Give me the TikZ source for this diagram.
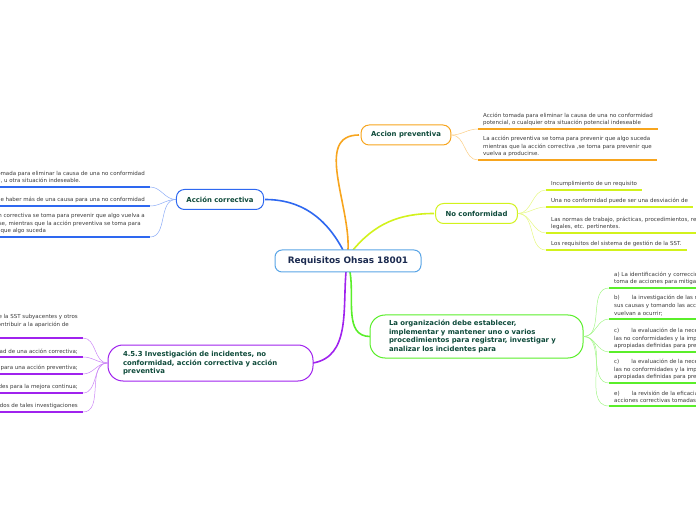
\documentclass[tikz,border=0pt]{standalone}
\usepackage{fontspec}
\setmainfont{DejaVu Sans}
\definecolor{rootline}{HTML}{5AA5E6}
\definecolor{roottext}{HTML}{1C2B50}
\definecolor{topictext}{HTML}{0E4A3A}
\definecolor{leaftext}{HTML}{3A3A3A}
\definecolor{apcol}{HTML}{F7A51E}
\definecolor{nccol}{HTML}{D2F21C}
\definecolor{accol}{HTML}{2E68F0}
\definecolor{orgcol}{HTML}{5AEE2A}
\definecolor{invcol}{HTML}{A023EE}
\tikzset{
  root/.style={draw=rootline, line width=1pt, rounded corners=7pt, fill=white, text=roottext,
    font=\fontsize{8.9}{10}\selectfont\bfseries, minimum width=146pt, minimum height=22pt},
  topic/.style={draw=#1, line width=1pt, rounded corners=8pt, fill=white, text=topictext,
    font=\fontsize{6.9}{8.4}\selectfont\bfseries, inner xsep=10pt, minimum height=20pt},
  bigtopic/.style={topic=#1, rounded corners=15pt, align=left, text width=175pt},
  leaf/.style={text=leaftext, font=\fontsize{5.5}{7.6}\selectfont, align=left, inner xsep=5pt, inner ysep=3pt},
  uline/.style={draw=#1, line width=1.5pt},
  branch/.style={draw=#1, line width=1.6pt},
  twig/.style={draw=#1!55, line width=0.5pt},
}
\newcommand{\gapb}{\hspace{12pt}}
\begin{document}
\begin{tikzpicture}[x=1pt, y=1pt]
\useasboundingbox (0,0) rectangle (696,520);
\clip (0,0) rectangle (696,520);

% ramas principales
\coordinate (rn) at (348,270);
\coordinate (rs) at (348,248);
\draw[branch=accol] ([xshift=-5pt]rn) to[out=118,in=0] (265,320.5);
\draw[branch=apcol] (rn) to[out=87,in=180] (359,385);
\draw[branch=nccol] ([xshift=5pt]rn) to[out=50,in=180] (434,306.5);
\draw[branch=invcol] ([xshift=-2pt]rs) to[out=-95,in=10] (313,157);
\draw[branch=orgcol] ([xshift=2pt]rs) to[out=-80,in=180] (370,183.5);

\node[root] (root) at (348,259) {Requisitos Ohsas 18001};
\node[topic=apcol] (ap) at (406,385) {Accion preventiva};
\node[topic=nccol] (nc) at (476.5,306.5) {No conformidad};
\node[topic=accol] (ac) at (220,320.5) {Acción correctiva};
\node[bigtopic=orgcol, inner xsep=19pt, minimum height=43pt] (org) at (476.5,183.5)
  {La organización debe establecer,\\implementar y mantener uno o varios\\procedimientos para registrar, investigar y\\analizar los incidentes para};
\node[bigtopic=invcol, inner xsep=15pt, minimum height=36pt] (inv) at (210.5,157)
  {4.5.3 Investigación de incidentes, no\\conformidad, acción correctiva y acción\\preventiva};

% hojas a la derecha
\foreach \id/\src/\col/\x/\y/\txt in {
  ap1/ap/apcol/478/391/{Acción tomada para eliminar la causa de una no conformidad\\potencial, o cualquier otra situación potencial indeseable},
  ap2/ap/apcol/478/360/{La acción preventiva se toma para prevenir que algo suceda\\mientras que la acción correctiva ,se toma para prevenir que\\vuelva a producirse.},
  nc1/nc/nccol/546/330/{Incumplimiento de un requisito},
  nc2/nc/nccol/546/313/{Una no conformidad puede ser una desviación de},
  nc3/nc/nccol/546/287/{Las normas de trabajo, prácticas, procedimientos, requisitos\\legales, etc. pertinentes.},
  nc4/nc/nccol/546/270/{Los requisitos del sistema de gestión de la SST.},
  org1/org/orgcol/609/232/{a) La identificación y corrección de las no conformidades y la\\toma de acciones para mitigar sus consecuencias para la SST;},
  org2/org/orgcol/609/201/{b)\gapb la investigación de las no conformidades, determinando\\sus causas y tomando las acciones con el fin de evitar que\\vuelvan a ocurrir;},
  org3/org/orgcol/609/168/{c)\gapb la evaluación de la necesidad de acciones para prevenir\\las no conformidades y la implementación de las acciones\\apropiadas definidas para prevenir su ocurrencia;},
  org4/org/orgcol/609/137/{c)\gapb la evaluación de la necesidad de acciones para prevenir\\las no conformidades y la implementación de las acciones\\apropiadas definidas para prevenir su ocurrencia;},
  org5/org/orgcol/609/114/{e)\gapb la revisión de la eficacia de las acciones preventivas y\\acciones correctivas tomadas.}} {
  \node[leaf, anchor=south west] (\id) at (\x,\y) {\txt};
  \draw[uline=\col] (\id.south west) -- (\id.south east);
  \draw[twig=\col] (\src.east) to[out=0,in=180] (\id.south west);
}

% hojas a la izquierda
\foreach \id/\src/\col/\x/\y/\txt in {
  ac1/ac/accol/150/333/{Acción tomada para eliminar la causa de una no conformidad\\potencial, u otra situación indeseable.},
  ac2/ac/accol/150/314/{Puede haber más de una causa para una no conformidad},
  ac3/ac/accol/150/283/{La acción correctiva se toma para prevenir que algo vuelva a\\producirse, mientras que la acción preventiva se toma para\\prevenir que algo suceda},
  inv1/inv/invcol/83/182/{a) Determinar las deficiencias de la SST subyacentes y otros\\factores que puedan causar o contribuir a la aparición de\\incidentes;},
  inv2/inv/invcol/83/163/{b) Identificar la necesidad de una acción correctiva;},
  inv3/inv/invcol/83/146/{c) Identificar oportunidades para una acción preventiva;},
  inv4/inv/invcol/83/127/{d) Identificar oportunidades para la mejora continua;},
  inv5/inv/invcol/83/108/{e) Comunicar los resultados de tales investigaciones}} {
  \node[leaf, anchor=south east] (\id) at (\x,\y) {\txt};
  \draw[uline=\col] (\id.south west) -- (\id.south east);
  \draw[twig=\col] (\src.west) to[out=180,in=0] (\id.south east);
}
\end{tikzpicture}
\end{document}
